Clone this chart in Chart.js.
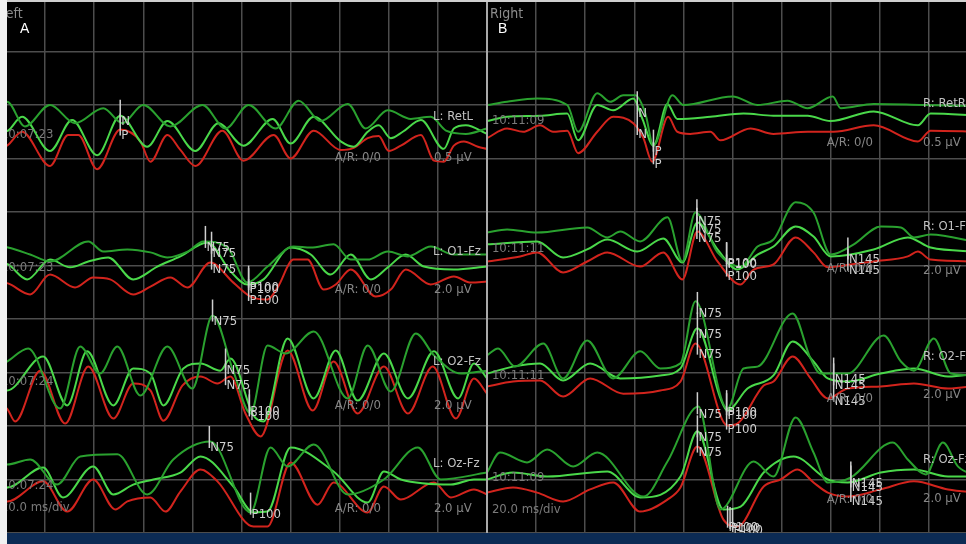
<!DOCTYPE html>
<html>
<head>
<meta charset="utf-8">
<script src="https://cdn.jsdelivr.net/npm/chart.js@4.4.1/dist/chart.umd.min.js"></script>
<style>
  html, body { margin: 0; padding: 0; background: #000; overflow: hidden; }
  #wrap { position: relative; width: 966px; height: 544px; overflow: hidden; background: #000; }
  canvas.panel { position: absolute; top: -2px; }
  #leftPanel { left: -4px; }
  #rightPanel { left: 487px; }
  #divider { position: absolute; left: 486px; top: 0; width: 2px; height: 533px; background: #a9a9a9; }
  #edge { position: absolute; left: 0; top: 0; width: 7px; height: 544px; background: #f1f1f1; }
  #topline { position: absolute; left: 0; top: 0; width: 966px; height: 2px; background: #cfcfcf; }
  #band { position: absolute; left: 7px; top: 533px; width: 959px; height: 11px; background: #0c2b54; }
</style>
</head>
<body>
<div id="wrap">
  <canvas id="leftPanel" class="panel" width="491" height="535"></canvas>
  <canvas id="rightPanel" class="panel" width="491" height="535"></canvas>
  <div id="divider"></div>
  <div id="band"></div>
  <div id="topline"></div>
  <div id="edge"></div>
</div>
<script>
// Sweep: 10 divisions of 20 ms; each channel stacked on its own baseline division.
const CHANNELS = ['Ret', 'O1-Fz', 'O2-Fz', 'Oz-Fz'];
const BASELINE_DIV = [7, 5, 3, 1];
const UV_PER_DIV = [0.5, 2.0, 2.0, 2.0];
const X_TICKS_MS = [0, 20, 40, 60, 80, 100, 120, 140, 160, 180, 200];
const Y_DIVS = [0, 1, 2, 3, 4, 5, 6, 7, 8, 9, 10];

// Trace colours: two repeat runs (greens) and the average (red)
const TRACE_COLORS = ['#2aa12f', '#4ad84a', '#d2241d'];

// ---- Left eye: [latency ms, amplitude µV] ----
const LEFT_RET_DARK = [[0,0.47],[4.5,0.53],[11.8,0.30],[22.0,0.50],[32.2,0.33],[43.7,0.47],[51.4,0.33],[60.0,0.50],[71.0,0.30],[84.1,0.50],[93.5,0.28],[102.9,0.50],[113.9,0.28],[123.3,0.54],[132.2,0.35],[143.3,0.51],[150.6,0.28],[159.6,0.45],[169.0,0.37],[177.1,0.39],[183.3,0.26],[191.4,0.23],[200,0.28]];
const LEFT_RET_LIME = [[0,0.23],[4.9,0.26],[10.6,0.39],[22.0,0.07],[31.0,0.36],[41.2,0.03],[50.6,0.40],[61.6,0.11],[69.8,0.35],[81.2,0.07],[90.6,0.33],[100.8,0.12],[112.7,0.37],[120.0,0.14],[129.4,0.39],[140.4,0.16],[145.7,0.11],[151.4,0.25],[155.9,0.31],[160.8,0.19],[165.7,0.25],[173.1,0.36],[182.4,0.09],[186.5,0.28],[191.4,0.31],[200,0.23]];
const LEFT_RET_RED = [[0,0.09],[4.5,0.12],[10.6,0.25],[22.0,-0.07],[29.4,0.22],[33.5,0.22],[41.2,-0.10],[50.6,0.27],[58.8,0.16],[62.9,-0.03],[69.8,0.22],[75.1,0.08],[81.2,-0.07],[92.2,0.26],[100.8,-0.02],[113.1,0.22],[120.0,0],[129.4,0.26],[140.4,0.08],[145.7,0.10],[151.4,0.19],[155.9,0.21],[160.0,0.07],[164.9,0.12],[173.1,0.22],[178.4,-0.02],[182.4,-0.03],[186.5,0.12],[190.6,0.16],[196.3,0.11],[200,0.09]];

const LEFT_O1_DARK = [[0,0.75],[4.9,0.67],[13.9,0.41],[22.0,0.15],[37.6,0.90],[43.7,0.52],[53.5,0.60],[62.9,0.49],[69.8,0.30],[78.0,0.52],[84.5,0.90],[94.3,0.67],[102.4,-0.64],[110.6,-0.04],[121.2,0.71],[128.2,0.67],[137.5,0.79],[144.5,0.22],[151.4,0.22],[159.6,0.52],[167.8,0.34],[177.1,0.71],[186.5,0.41],[200,0.41]];
const LEFT_O1_LIME = [[0,0.15],[4.9,0.04],[12.7,-0.52],[22.0,0.22],[30.2,-0.07],[37.6,0.15],[45.7,0.30],[55.9,-0.52],[65.7,-0.04],[75.1,0.34],[86.1,0.86],[95.5,-0.22],[102.4,-0.71],[109.0,-0.52],[120.0,0.67],[128.2,0.41],[136.3,-0.34],[144.5,0.41],[152.7,-0.52],[159.6,-0.07],[166.9,0.41],[174.3,-0.04],[186.5,-0.15],[200,-0.04]];
const LEFT_O1_RED = [[0,-0.60],[4.9,-0.67],[13.9,-1.08],[22.0,-0.34],[32.2,-0.82],[39.6,-0.45],[46.5,-0.52],[55.9,-1.08],[62.9,-0.79],[71.0,-0.45],[78.0,-0.82],[87.3,0.11],[96.7,-0.64],[103.7,-1.16],[110.6,-1.27],[114.7,-0.82],[121.2,0.22],[126.9,0.22],[133.5,-0.90],[138.4,-0.71],[144.5,-0.15],[154.7,-1.16],[160.8,-0.90],[166.9,-0.15],[177.1,-0.71],[186.5,-0.41],[193.5,-0.64],[200,-0.60]];

const LEFT_O2_DARK = [[0,0.22],[4.5,0.41],[13.1,0.90],[26.1,-1.35],[34.3,0.97],[42.4,-0.04],[49.4,0.97],[58.8,-0.86],[69.8,0.97],[80.0,-0.60],[88.2,2.13],[96.7,0.04],[103.7,-1.53],[110.6,1.01],[118.0,0.71],[129.4,1.53],[143.3,-0.97],[151.4,1.01],[160.8,-0.71],[171.0,1.46],[178.4,0.64],[189.4,-0.04],[200,0.07]];
const LEFT_O2_LIME = [[0,-0.41],[4.5,-0.67],[19.2,0.60],[29.0,-1.23],[37.1,0.79],[47.8,-1.23],[55.9,0.15],[62.9,-0.04],[68.2,-1.23],[76.3,0.15],[83.3,0.34],[91.4,0.07],[95.5,0.52],[104.9,-1.61],[109.0,-1.83],[118.8,1.27],[129.4,-0.97],[138.4,0.82],[147.3,-1.05],[158.0,0.71],[167.8,-0.97],[178.4,0.79],[188.2,-0.97],[194.7,0.34],[200,-0.22]];
const LEFT_O2_RED = [[0,-1.16],[4.5,-1.35],[7.8,-1.83],[18.0,0.07],[28.2,-1.91],[37.6,0.22],[47.8,-1.72],[55.9,-0.41],[62.9,-0.67],[68.2,-1.80],[75.9,-0.49],[83.3,-0.15],[90.2,-0.41],[95.5,-0.15],[101.6,-1.53],[107.8,-2.39],[118.8,0.82],[129.0,-1.42],[137.5,0.41],[147.3,-1.53],[158.0,0.22],[167.8,-1.53],[177.9,0.22],[187.3,-1.72],[194.7,-0.22],[200,-0.79]];

const LEFT_OZ_DARK = [[0,0.56],[4.5,0.56],[13.9,0.75],[24.9,-0.19],[34.3,0.86],[49.4,0.94],[61.6,-0.56],[72.2,0.75],[87.3,1.42],[103.7,-1.23],[111.8,1.20],[118.8,0.49],[129.4,1.31],[143.3,-0.56],[158.0,0],[171.8,1.20],[181.2,0],[200,0.26]];
const LEFT_OZ_LIME = [[0,-0.30],[4.5,-0.30],[19.2,0.45],[27.3,-0.67],[39.6,0.49],[47.8,-0.56],[55.9,-0.19],[64.1,0],[75.1,0.26],[83.3,0.86],[96.7,-0.26],[104.9,-1.23],[110.6,-1.20],[120.0,1.20],[137.5,0.30],[151.4,-0.86],[158.0,0.30],[164.9,0],[185.3,-0.19],[194.7,0],[200,0]];
const LEFT_OZ_RED = [[0,-0.75],[4.5,-0.82],[19.2,-0.07],[29.0,-1.20],[39.6,0],[48.6,-1.12],[53.5,-0.82],[62.9,-0.67],[69.0,-1.20],[75.1,-0.45],[83.3,0.37],[90.2,-0.07],[104.9,-1.76],[110.6,-1.76],[120.0,0.64],[131.0,-0.94],[137.5,-0.11],[151.4,-1.23],[158.0,-0.26],[164.9,-0.75],[178.4,-0.11],[185.3,-0.67],[194.7,-0.37],[200,-0.56]];

// ---- Right eye ----
const RIGHT_RET_DARK = [[0,0.50],[8.2,0.53],[20.4,0.56],[32.7,0.50],[37.1,0.25],[44.9,0.61],[50.2,0.53],[55.5,0.59],[60.4,0.59],[64.5,0.42],[67.8,0.12],[75.5,0.59],[80.0,0.50],[100.0,0.58],[110.2,0.50],[122.4,0.54],[130.6,0.47],[140.8,0.58],[144.1,0.47],[157.5,0.51],[177.9,0.50],[200,0.49]];
const RIGHT_RET_LIME = [[0,0.35],[8.2,0.39],[21.6,0.40],[32.7,0.42],[37.1,0.17],[44.9,0.50],[51.4,0.45],[59.6,0.56],[63.3,0.37],[67.8,0.12],[73.5,0.51],[77.5,0.37],[91.0,0.39],[104.5,0.42],[116.7,0.40],[130.6,0.40],[139.9,0.35],[157.5,0.44],[175.5,0.31],[180.7,0.42],[200,0.40]];
const RIGHT_RET_RED = [[0,0.19],[8.2,0.28],[14.7,0.25],[21.6,0.31],[26.9,0.25],[32.7,0.26],[37.1,0.05],[44.9,0.25],[51.4,0.39],[59.6,0.33],[63.7,0.19],[67.3,-0.03],[73.8,0.39],[77.5,0.25],[82.8,0.23],[91.0,0.25],[95.1,0.17],[107.3,0.28],[116.7,0.23],[130.6,0.25],[141.2,0.25],[157.5,0.31],[175.5,0.16],[180.7,0.26],[200,0.25]];

const RIGHT_O1_DARK = [[0,1.23],[8.2,1.35],[20.4,1.23],[40.8,1.42],[49.0,1.05],[54.3,1.27],[62.4,0.90],[73.5,1.80],[79.6,0.15],[84.9,1.98],[93.9,0.49],[103.3,-0.04],[110.2,0.71],[116.7,0.97],[125.7,2.36],[133.0,1.98],[140.0,0.41],[149.4,0.79],[160.4,1.46],[168.6,1.42],[173.9,1.05],[180.7,1.16],[200,0.86]];
const RIGHT_O1_LIME = [[0,0.79],[20.4,0.90],[31.0,0.30],[40.8,0.60],[49.0,0.97],[61.2,0.52],[71.8,1.01],[79.6,0.11],[85.7,1.61],[93.9,0.60],[102.0,-0.15],[110.2,0.41],[116.7,0.71],[125.7,1.46],[133.0,1.08],[140.0,0.34],[157.5,0.60],[171.4,1.05],[180.7,0.67],[200,0.52]];
const RIGHT_O1_RED = [[0,0.15],[13.5,0.34],[20.4,0.49],[31.0,-0.26],[40.8,0.15],[49.0,0.49],[62.4,-0.04],[71.8,0.49],[79.6,-0.52],[85.7,1.27],[93.9,0.15],[103.3,-0.71],[108.6,-0.15],[116.7,0.04],[125.7,1.05],[133.0,0.49],[138.8,-0.07],[148.1,0.04],[157.5,0.15],[171.4,0.34],[175.5,0.52],[180.7,0.22],[200,0.15]];

const RIGHT_O2_DARK = [[0,0.64],[4.5,0.90],[11.4,0.22],[22.9,1.08],[31.0,-0.22],[40.8,1.20],[51.4,-0.22],[62.4,0.79],[70.6,0.15],[78.8,0.34],[84.9,2.66],[97.9,-1.35],[104.5,0.15],[110.2,0.22],[124.5,2.21],[131.8,0.52],[135.9,-0.04],[146.9,-0.04],[161.6,1.38],[168.6,0.41],[173.9,0.07],[182.0,1.27],[189.0,-0.04],[200,-0.11]];
const RIGHT_O2_LIME = [[0,-0.04],[10.6,0.22],[21.6,0.34],[31.0,-0.30],[42.0,0.34],[54.3,-0.22],[70.6,-0.11],[78.8,0.15],[85.7,1.65],[95.1,-0.97],[97.9,-1.42],[106.1,-0.60],[116.7,-0.11],[124.5,1.16],[133.0,0.41],[138.8,-0.22],[146.9,-0.34],[160.4,-0.04],[173.9,0.15],[187.8,-0.15],[200,-0.04]];
const RIGHT_O2_RED = [[0,-0.52],[10.6,-0.34],[21.6,-0.30],[31.0,-0.90],[42.0,-0.22],[55.5,-0.79],[70.6,-0.67],[78.8,-0.34],[84.9,1.08],[97.9,-1.98],[102.0,-1.91],[112.7,-0.49],[116.7,-0.34],[124.5,0.60],[131.8,-0.22],[138.8,-0.97],[146.9,-0.60],[160.4,-0.52],[173.9,-0.41],[187.8,-0.60],[200,-0.49]];

const RIGHT_OZ_DARK = [[0,0.26],[5.3,1.01],[16.3,0.64],[24.5,1.12],[35.1,0.49],[44.9,1.01],[63.7,-0.64],[73.5,0.67],[86.1,2.73],[95.1,-1.12],[108.6,0.67],[116.7,0.11],[125.7,2.32],[133.0,1.01],[138.8,-0.11],[148.1,0.07],[165.3,1.38],[171.4,0.75],[178.7,0.19],[185.7,1.38],[191.8,0.49],[200,0.11]];
const RIGHT_OZ_LIME = [[0,0],[10.6,0.26],[24.5,0.11],[49.0,0.30],[62.4,-0.67],[78.8,0.11],[85.7,1.80],[96.3,-1.12],[103.3,-1.01],[112.7,0.26],[124.9,0.86],[138.8,0],[146.9,-0.11],[160.4,0.26],[173.9,0.37],[187.8,0.11],[200,0.11]];
const RIGHT_OZ_RED = [[0,-0.49],[10.6,-0.30],[20.4,-0.49],[31.0,-0.82],[42.0,-0.37],[51.4,-0.11],[62.4,-1.20],[73.5,-0.75],[78.8,-0.30],[85.7,1.23],[96.3,-1.50],[102.0,-1.76],[112.7,-0.26],[119.6,0],[126.5,0.37],[133.0,-0.11],[138.8,-0.49],[146.9,-0.64],[160.4,-0.37],[173.9,-0.07],[187.8,-0.37],[200,-0.49]];

const LEFT_TRACES = [
  [LEFT_RET_DARK, LEFT_RET_LIME, LEFT_RET_RED],
  [LEFT_O1_DARK, LEFT_O1_LIME, LEFT_O1_RED],
  [LEFT_O2_DARK, LEFT_O2_LIME, LEFT_O2_RED],
  [LEFT_OZ_DARK, LEFT_OZ_LIME, LEFT_OZ_RED]
];
const RIGHT_TRACES = [
  [RIGHT_RET_DARK, RIGHT_RET_LIME, RIGHT_RET_RED],
  [RIGHT_O1_DARK, RIGHT_O1_LIME, RIGHT_O1_RED],
  [RIGHT_O2_DARK, RIGHT_O2_LIME, RIGHT_O2_RED],
  [RIGHT_OZ_DARK, RIGHT_OZ_LIME, RIGHT_OZ_RED]
];

// Peak markers: [name, channel, trace, latency ms]
const LEFT_MARKERS = [
  ['N', 0, 1, 50.6], ['P', 0, 2, 50.6],
  ['N75', 1, 0, 85.3], ['N75', 1, 1, 87.8], ['N75', 1, 2, 87.8],
  ['P100', 1, 0, 102.9], ['P100', 1, 1, 102.9], ['P100', 1, 2, 102.9],
  ['N75', 2, 0, 88.2], ['N75', 2, 1, 93.5], ['N75', 2, 2, 93.5],
  ['P100', 2, 0, 103.2], ['P100', 2, 1, 103.2],
  ['N75', 3, 0, 86.9], ['P100', 3, 1, 103.7]
];
const RIGHT_MARKERS = [
  ['N', 0, 1, 61.2], ['N', 0, 2, 61.2], ['P', 0, 1, 67.8], ['P', 0, 2, 67.8],
  ['N75', 1, 0, 85.5], ['N75', 1, 1, 85.5], ['N75', 1, 2, 85.5],
  ['P100', 1, 0, 97.6], ['P100', 1, 1, 97.6], ['P100', 1, 2, 97.6],
  ['N145', 1, 1, 147.0], ['N145', 1, 2, 147.0],
  ['N75', 2, 0, 85.7], ['N75', 2, 1, 85.7], ['N75', 2, 2, 85.7],
  ['P100', 2, 0, 97.6], ['P100', 2, 1, 97.6], ['P100', 2, 2, 97.6],
  ['N145', 2, 0, 141.2], ['N145', 2, 1, 141.2], ['N145', 2, 2, 141.2],
  ['N75', 3, 0, 85.7], ['N75', 3, 1, 85.7], ['N75', 3, 2, 85.7],
  ['P100', 3, 2, 98.0], ['P100', 3, 2, 99.0], ['P100', 3, 2, 100.0],
  ['N145', 3, 0, 148.2], ['N145', 3, 1, 148.2], ['N145', 3, 2, 148.2]
];

// Annotation text: [text, ms, division, style]
const LEFT_TEXT = [
  ['Left', 1.2, 9.70, 'title'], ['A', 9.8, 9.41, 'letter'],
  ['L: RetL', 178, 7.78, 'name'], ['10:07:23', 2, 7.45, 'time'], ['A/R: 0/0', 138, 7.02, 'dim'], ['0.5 µV', 178.4, 7.02, 'dim'],
  ['L: O1-Fz', 178, 5.26, 'name'], ['10:07:23', 2, 4.96, 'time'], ['A/R: 0/0', 138, 4.55, 'dim'], ['2.0 µV', 178.4, 4.55, 'dim'],
  ['L: O2-Fz', 178, 3.20, 'name'], ['10:07:24', 2, 2.83, 'time'], ['A/R: 0/0', 138, 2.38, 'dim'], ['2.0 µV', 178.4, 2.38, 'dim'],
  ['L: Oz-Fz', 178, 1.29, 'name'], ['10:07:24', 2, 0.88, 'time'], ['20.0 ms/div', 2, 0.47, 'time'], ['A/R: 0/0', 138, 0.45, 'dim'], ['2.0 µV', 178.4, 0.45, 'dim']
];
const RIGHT_TEXT = [
  ['Right', 1.2, 9.70, 'title'], ['B', 4.5, 9.41, 'letter'],
  ['R: RetR', 177.6, 8.03, 'name'], ['10:11:09', 2, 7.71, 'time'], ['A/R: 0/0', 138.4, 7.30, 'dim'], ['0.5 µV', 177.6, 7.30, 'dim'],
  ['R: O1-Fz', 177.6, 5.73, 'name'], ['10:11:11', 2, 5.31, 'time'], ['A/R: 0/0', 138.4, 4.94, 'dim'], ['2.0 µV', 177.6, 4.90, 'dim'],
  ['R: O2-Fz', 177.6, 3.29, 'name'], ['10:11:11', 2, 2.94, 'time'], ['A/R: 0/0', 138.4, 2.51, 'dim'], ['2.0 µV', 177.6, 2.58, 'dim'],
  ['R: Oz-Fz', 177.6, 1.37, 'name'], ['10:11:09', 2, 1.03, 'time'], ['20.0 ms/div', 2, 0.43, 'time'], ['A/R: 0/0', 138.4, 0.62, 'dim'], ['2.0 µV', 177.6, 0.65, 'dim']
];

const FONT_FAMILY = '"DejaVu Sans Condensed", "DejaVu Sans", sans-serif';
const TEXT_STYLES = {
  title:  { font: '14px ' + FONT_FAMILY, color: '#8c8c8c' },
  letter: { font: '14px "Liberation Sans", Arial, sans-serif', color: '#ffffff' },
  name:   { font: '13px ' + FONT_FAMILY, color: '#c2c2c2' },
  time:   { font: '13px ' + FONT_FAMILY, color: '#7a7a7a' },
  dim:    { font: '13px ' + FONT_FAMILY, color: '#868686' },
  marker: { font: '13px ' + FONT_FAMILY, color: '#d0d0d0' }
};

function toDivisions(points, ch) {
  return points.map(([t, v]) => ({ x: t, y: BASELINE_DIV[ch] + v / UV_PER_DIV[ch] }));
}

function valueAt(points, t) {
  for (let i = 1; i < points.length; i++) {
    const [t0, v0] = points[i - 1];
    const [t1, v1] = points[i];
    if (t >= t0 && t <= t1) return v0 + (v1 - v0) * (t - t0) / (t1 - t0);
  }
  return points[points.length - 1][1];
}

const annotations = {
  id: 'annotations',
  afterDatasetsDraw(chart, args, opts) {
    const { ctx } = chart;
    const xs = chart.scales.x, ys = chart.scales.y;
    ctx.save();
    // peak markers: short vertical tick with the component name beside it
    opts.markers.forEach(([name, ch, tr, t]) => {
      const v = valueAt(opts.traces[ch][tr], t);
      const px = xs.getPixelForValue(t);
      const py = ys.getPixelForValue(BASELINE_DIV[ch] + v / UV_PER_DIV[ch]);
      ctx.strokeStyle = '#cfcfcf';
      ctx.lineWidth = 1.5;
      ctx.beginPath();
      ctx.moveTo(px, py - 16);
      ctx.lineTo(px, py + 6);
      ctx.stroke();
      ctx.font = TEXT_STYLES.marker.font;
      ctx.fillStyle = TEXT_STYLES.marker.color;
      ctx.textAlign = 'left';
      ctx.textBaseline = 'middle';
      ctx.fillText(name, px + 1, py + 6);
    });
    opts.text.forEach(([txt, t, d, style]) => {
      const s = TEXT_STYLES[style];
      ctx.font = s.font;
      ctx.fillStyle = s.color;
      ctx.textAlign = 'left';
      ctx.textBaseline = 'middle';
      ctx.fillText(txt, xs.getPixelForValue(t), ys.getPixelForValue(d));
    });
    ctx.restore();
  }
};

function buildPanel(canvasId, traces, markers, text) {
  const datasets = [];
  traces.forEach((group, ch) => {
    group.forEach((pts, tr) => {
      datasets.push({
        label: CHANNELS[ch] + ' ' + tr,
        data: toDivisions(pts, ch),
        borderColor: TRACE_COLORS[tr],
        borderWidth: 2,
        pointRadius: 0,
        fill: false,
        cubicInterpolationMode: 'monotone'
      });
    });
  });
  return new Chart(document.getElementById(canvasId), {
    type: 'line',
    data: { datasets },
    options: {
      responsive: false,
      animation: false,
      events: [],
      layout: { padding: 0 },
      plugins: {
        legend: { display: false },
        tooltip: { enabled: false },
        annotations: { markers, traces, text }
      },
      scales: {
        x: {
          type: 'linear', min: X_TICKS_MS[0], max: X_TICKS_MS[X_TICKS_MS.length - 1],
          afterBuildTicks: s => { s.ticks = X_TICKS_MS.map(v => ({ value: v })); },
          ticks: { display: false },
          grid: { color: '#4d4d4d', lineWidth: 1.5, drawTicks: false },
          border: { display: false }
        },
        y: {
          type: 'linear', min: Y_DIVS[0], max: Y_DIVS[Y_DIVS.length - 1],
          afterBuildTicks: s => { s.ticks = Y_DIVS.map(v => ({ value: v })); },
          ticks: { display: false },
          grid: { color: '#4d4d4d', lineWidth: 1.5, drawTicks: false },
          border: { display: false }
        }
      }
    },
    plugins: [annotations]
  });
}

buildPanel('leftPanel', LEFT_TRACES, LEFT_MARKERS, LEFT_TEXT);
buildPanel('rightPanel', RIGHT_TRACES, RIGHT_MARKERS, RIGHT_TEXT);
</script>
</body>
</html>
